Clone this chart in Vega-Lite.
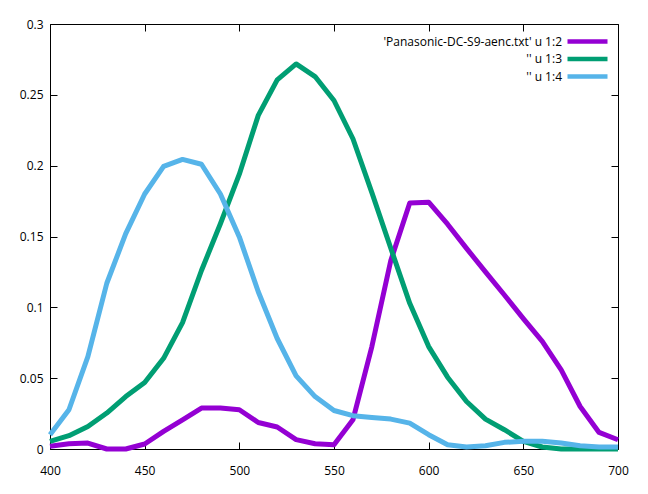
{
  "$schema": "https://vega.github.io/schema/vega-lite/v6.json",
  "width": 568,
  "height": 425,
  "autosize": {"type": "none"},
  "padding": {"left": 50, "top": 24, "right": 30, "bottom": 45},
  "background": "white",
  "config": {
    "view": {"stroke": "black", "strokeWidth": 1},
    "axis": {
      "domain": false,
      "grid": false,
      "title": null,
      "ticks": true,
      "tickColor": "black",
      "tickWidth": 1,
      "tickSize": -7,
      "labelFont": "Open Sans",
      "labelFontSize": 12,
      "labelColor": "black",
      "labelFlush": false,
      "labelOverlap": false
    },
    "legend": {
      "labelFont": "Open Sans",
      "labelFontSize": 12,
      "labelColor": "black",
      "labelLimit": 400
    }
  },
  "datasets": {
    "spec": [
      {"wl": 400, "series": "'Panasonic-DC-S9-aenc.txt' u 1:2", "v": 0.002},
      {"wl": 410, "series": "'Panasonic-DC-S9-aenc.txt' u 1:2", "v": 0.0037},
      {"wl": 420, "series": "'Panasonic-DC-S9-aenc.txt' u 1:2", "v": 0.0042},
      {"wl": 430, "series": "'Panasonic-DC-S9-aenc.txt' u 1:2", "v": 0.0},
      {"wl": 440, "series": "'Panasonic-DC-S9-aenc.txt' u 1:2", "v": 0.0},
      {"wl": 450, "series": "'Panasonic-DC-S9-aenc.txt' u 1:2", "v": 0.0035},
      {"wl": 460, "series": "'Panasonic-DC-S9-aenc.txt' u 1:2", "v": 0.0124},
      {"wl": 470, "series": "'Panasonic-DC-S9-aenc.txt' u 1:2", "v": 0.0206},
      {"wl": 480, "series": "'Panasonic-DC-S9-aenc.txt' u 1:2", "v": 0.0289},
      {"wl": 490, "series": "'Panasonic-DC-S9-aenc.txt' u 1:2", "v": 0.029},
      {"wl": 500, "series": "'Panasonic-DC-S9-aenc.txt' u 1:2", "v": 0.0277},
      {"wl": 510, "series": "'Panasonic-DC-S9-aenc.txt' u 1:2", "v": 0.0187},
      {"wl": 520, "series": "'Panasonic-DC-S9-aenc.txt' u 1:2", "v": 0.0155},
      {"wl": 530, "series": "'Panasonic-DC-S9-aenc.txt' u 1:2", "v": 0.0066},
      {"wl": 540, "series": "'Panasonic-DC-S9-aenc.txt' u 1:2", "v": 0.0037},
      {"wl": 550, "series": "'Panasonic-DC-S9-aenc.txt' u 1:2", "v": 0.003},
      {"wl": 560, "series": "'Panasonic-DC-S9-aenc.txt' u 1:2", "v": 0.0206},
      {"wl": 570, "series": "'Panasonic-DC-S9-aenc.txt' u 1:2", "v": 0.0723},
      {"wl": 580, "series": "'Panasonic-DC-S9-aenc.txt' u 1:2", "v": 0.133},
      {"wl": 590, "series": "'Panasonic-DC-S9-aenc.txt' u 1:2", "v": 0.1737},
      {"wl": 600, "series": "'Panasonic-DC-S9-aenc.txt' u 1:2", "v": 0.1742},
      {"wl": 610, "series": "'Panasonic-DC-S9-aenc.txt' u 1:2", "v": 0.1587},
      {"wl": 620, "series": "'Panasonic-DC-S9-aenc.txt' u 1:2", "v": 0.1416},
      {"wl": 630, "series": "'Panasonic-DC-S9-aenc.txt' u 1:2", "v": 0.125},
      {"wl": 640, "series": "'Panasonic-DC-S9-aenc.txt' u 1:2", "v": 0.1087},
      {"wl": 650, "series": "'Panasonic-DC-S9-aenc.txt' u 1:2", "v": 0.092},
      {"wl": 660, "series": "'Panasonic-DC-S9-aenc.txt' u 1:2", "v": 0.076},
      {"wl": 670, "series": "'Panasonic-DC-S9-aenc.txt' u 1:2", "v": 0.0558},
      {"wl": 680, "series": "'Panasonic-DC-S9-aenc.txt' u 1:2", "v": 0.03},
      {"wl": 690, "series": "'Panasonic-DC-S9-aenc.txt' u 1:2", "v": 0.0117},
      {"wl": 700, "series": "'Panasonic-DC-S9-aenc.txt' u 1:2", "v": 0.0065},
      {"wl": 400, "series": "'' u 1:3", "v": 0.0054},
      {"wl": 410, "series": "'' u 1:3", "v": 0.0094},
      {"wl": 420, "series": "'' u 1:3", "v": 0.0159},
      {"wl": 430, "series": "'' u 1:3", "v": 0.0254},
      {"wl": 440, "series": "'' u 1:3", "v": 0.037},
      {"wl": 450, "series": "'' u 1:3", "v": 0.0469},
      {"wl": 460, "series": "'' u 1:3", "v": 0.064},
      {"wl": 470, "series": "'' u 1:3", "v": 0.0892},
      {"wl": 480, "series": "'' u 1:3", "v": 0.126},
      {"wl": 490, "series": "'' u 1:3", "v": 0.159},
      {"wl": 500, "series": "'' u 1:3", "v": 0.194},
      {"wl": 510, "series": "'' u 1:3", "v": 0.2355},
      {"wl": 520, "series": "'' u 1:3", "v": 0.2606},
      {"wl": 530, "series": "'' u 1:3", "v": 0.2718},
      {"wl": 540, "series": "'' u 1:3", "v": 0.2629},
      {"wl": 550, "series": "'' u 1:3", "v": 0.246},
      {"wl": 560, "series": "'' u 1:3", "v": 0.219},
      {"wl": 570, "series": "'' u 1:3", "v": 0.181},
      {"wl": 580, "series": "'' u 1:3", "v": 0.1417},
      {"wl": 590, "series": "'' u 1:3", "v": 0.1028},
      {"wl": 600, "series": "'' u 1:3", "v": 0.0723},
      {"wl": 610, "series": "'' u 1:3", "v": 0.0507},
      {"wl": 620, "series": "'' u 1:3", "v": 0.0335},
      {"wl": 630, "series": "'' u 1:3", "v": 0.0211},
      {"wl": 640, "series": "'' u 1:3", "v": 0.0136},
      {"wl": 650, "series": "'' u 1:3", "v": 0.0054},
      {"wl": 660, "series": "'' u 1:3", "v": 0.0014},
      {"wl": 670, "series": "'' u 1:3", "v": 0.0},
      {"wl": 680, "series": "'' u 1:3", "v": 0.0},
      {"wl": 690, "series": "'' u 1:3", "v": 0.0},
      {"wl": 700, "series": "'' u 1:3", "v": 0.0},
      {"wl": 400, "series": "'' u 1:4", "v": 0.0101},
      {"wl": 410, "series": "'' u 1:4", "v": 0.0277},
      {"wl": 420, "series": "'' u 1:4", "v": 0.0652},
      {"wl": 430, "series": "'' u 1:4", "v": 0.117},
      {"wl": 440, "series": "'' u 1:4", "v": 0.152},
      {"wl": 450, "series": "'' u 1:4", "v": 0.18},
      {"wl": 460, "series": "'' u 1:4", "v": 0.1995},
      {"wl": 470, "series": "'' u 1:4", "v": 0.2044},
      {"wl": 480, "series": "'' u 1:4", "v": 0.201},
      {"wl": 490, "series": "'' u 1:4", "v": 0.18},
      {"wl": 500, "series": "'' u 1:4", "v": 0.1497},
      {"wl": 510, "series": "'' u 1:4", "v": 0.111},
      {"wl": 520, "series": "'' u 1:4", "v": 0.078},
      {"wl": 530, "series": "'' u 1:4", "v": 0.0516},
      {"wl": 540, "series": "'' u 1:4", "v": 0.037},
      {"wl": 550, "series": "'' u 1:4", "v": 0.0272},
      {"wl": 560, "series": "'' u 1:4", "v": 0.0235},
      {"wl": 570, "series": "'' u 1:4", "v": 0.0223},
      {"wl": 580, "series": "'' u 1:4", "v": 0.0211},
      {"wl": 590, "series": "'' u 1:4", "v": 0.0183},
      {"wl": 600, "series": "'' u 1:4", "v": 0.0101},
      {"wl": 610, "series": "'' u 1:4", "v": 0.003},
      {"wl": 620, "series": "'' u 1:4", "v": 0.0014},
      {"wl": 630, "series": "'' u 1:4", "v": 0.0023},
      {"wl": 640, "series": "'' u 1:4", "v": 0.0047},
      {"wl": 650, "series": "'' u 1:4", "v": 0.0054},
      {"wl": 660, "series": "'' u 1:4", "v": 0.0054},
      {"wl": 670, "series": "'' u 1:4", "v": 0.0042},
      {"wl": 680, "series": "'' u 1:4", "v": 0.0023},
      {"wl": 690, "series": "'' u 1:4", "v": 0.0014},
      {"wl": 700, "series": "'' u 1:4", "v": 0.0014}
    ]
  },
  "data": {"name": "spec"},
  "layer": [
    {
      "mark": {"type": "line", "strokeWidth": 5, "strokeJoin": "round", "clip": false},
      "encoding": {
        "x": {
          "field": "wl",
          "type": "quantitative",
          "scale": {"domain": [400, 700], "nice": false, "zero": false},
          "axis": {"orient": "bottom", "values": [400, 450, 500, 550, 600, 650, 700], "labelPadding": 23}
        },
        "y": {
          "field": "v",
          "type": "quantitative",
          "scale": {"domain": [0, 0.3], "nice": false},
          "axis": {"orient": "left", "values": [0, 0.05, 0.1, 0.15, 0.2, 0.25, 0.3], "format": "~g", "labelPadding": 14}
        },
        "color": {
          "field": "series",
          "type": "nominal",
          "scale": {
            "domain": ["'Panasonic-DC-S9-aenc.txt' u 1:2", "'' u 1:3", "'' u 1:4"],
            "range": ["#9400d3", "#009e73", "#56b4e9"]
          },
          "legend": {
            "title": null,
            "orient": "none",
            "legendX": 530,
            "legendY": 10,
            "symbolType": "M-4,0H4",
            "symbolSize": 100,
            "symbolStrokeWidth": 4.5,
            "labelAlign": "right",
            "labelOffset": -33,
            "rowPadding": -1.5
          }
        }
      }
    },
    {
      "mark": {"type": "line", "strokeOpacity": 0},
      "encoding": {
        "x": {
          "field": "wl",
          "type": "quantitative",
          "axis": {"orient": "top", "values": [400, 450, 500, 550, 600, 650, 700], "labels": false}
        },
        "y": {
          "field": "v",
          "type": "quantitative",
          "axis": {"orient": "right", "values": [0, 0.05, 0.1, 0.15, 0.2, 0.25, 0.3], "labels": false}
        },
        "detail": {"field": "series"}
      }
    }
  ],
  "resolve": {"axis": {"x": "independent", "y": "independent"}}
}
